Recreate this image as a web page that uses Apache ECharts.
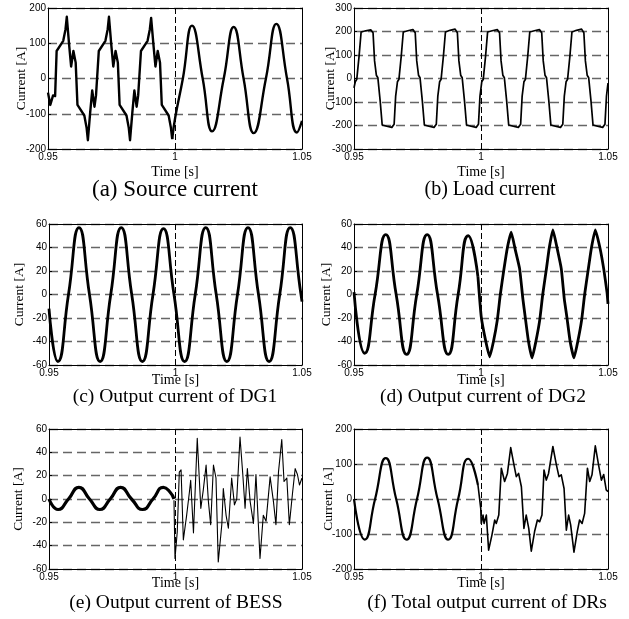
<!DOCTYPE html>
<html>
<head>
<meta charset="utf-8">
<script src="https://cdn.jsdelivr.net/npm/echarts@6/dist/echarts.min.js"></script>
<style>
  html, body { margin: 0; padding: 0; background: #fff; }
  #chart { width: 629px; height: 619px; }
</style>
</head>
<body>
<div id="chart"></div>
<script>
// time is kept in ms (950 = 0.95 s)
const timeTicks = [950, 1000, 1050];
const timeTickLabels = ["0.95", "1", "1.05"];
const sourceTicks = [-200, -100, 0, 100, 200];
const loadTicks = [-300, -200, -100, 0, 100, 200, 300];
const dgTicks = [-60, -40, -20, 0, 20, 40, 60];
const totalTicks = [-200, -100, 0, 100, 200];

const captionTexts = [
  "(a) Source current",
  "(b) Load current",
  "(c) Output current of DG1",
  "(d) Output current of DG2",
  "(e) Output current of BESS",
  "(f) Total output current of DRs",
];

// (a) source current, before / after t = 1 s
const sourcePre = [
  [950, -40], [950.9, -75], [951.5, -80], [952.0, -48], [952.8, -50],
  [953.4, 78], [956.0, 107], [956.9, 140], [957.4, 175], [958.3, 97], [959.1, 34], [960.0, 78], [960.9, 45],
  [961.6, -75], [964.3, -105], [965.2, -140], [965.7, -175], [966.6, -97], [967.4, -34], [968.3, -80], [968.9, -48], [969.4, -50],
  [970.0, 78], [972.6, 107], [973.5, 140], [974.0, 175], [974.9, 97], [975.7, 34], [976.6, 78], [977.5, 45],
  [978.2, -75], [980.9, -105], [981.8, -140], [982.3, -175], [983.2, -97], [984.0, -34], [984.9, -80], [985.5, -48], [986.0, -50],
  [986.6, 78], [989.2, 107], [990.1, 140], [990.6, 172], [991.5, 97], [992.3, 34], [993.2, 78], [994.1, 45],
  [994.8, -75], [997.5, -105], [998.4, -140], [998.9, -172],
];
const sourcePost = [
  [998.9, -172], [1000.1, -110], [1003.1, 0], [1006.7, 150], [1010.9, 0], [1014.6, -150],
  [1019.2, 0], [1023.1, 146], [1027.0, 0], [1031.0, -155], [1035.8, 0], [1039.9, 155],
  [1044.1, 0], [1048.0, -153], [1050, -120],
];

// (b) load current
const loadCurrent = [
  [950, -40], [950.5, -14],
  [951.1, -3], [951.4, 5], [952.0, 95], [952.8, 198], [954.6, 203], [956.6, 207], [957.2, 215], [957.5, 195],
  [958.1, 75], [958.8, 14], [959.4, 3], [959.7, -5], [960.3, -95], [961.1, -198], [962.9, -203], [964.9, -208], [965.5, -216],
  [965.8, -195], [966.4, -75], [967.1, -14],
  [967.7, -3], [968.0, 5], [968.6, 95], [969.4, 198], [971.2, 203], [973.2, 208], [973.8, 216], [974.1, 195],
  [974.7, 75], [975.4, 14], [976.0, 3], [976.3, -5], [976.9, -95], [977.7, -198], [979.5, -203], [981.5, -208], [982.1, -216],
  [982.4, -195], [983.0, -75], [983.7, -14],
  [984.3, -3], [984.6, 5], [985.2, 95], [986.0, 198], [987.8, 205], [989.8, 210], [990.4, 218], [990.7, 195],
  [991.3, 75], [992.0, 14], [992.6, 3], [992.9, -5], [993.5, -95], [994.3, -198], [996.1, -203], [998.1, -208], [998.7, -216],
  [999.0, -195], [999.6, -75], [1000.3, -14],
  [1000.9, -3], [1001.2, 5], [1001.8, 95], [1002.6, 198], [1004.4, 203], [1006.4, 208], [1007.0, 216], [1007.3, 195],
  [1007.9, 75], [1008.6, 14], [1009.2, 3], [1009.5, -5], [1010.1, -95], [1010.9, -198], [1012.7, -203], [1014.7, -208], [1015.3, -216],
  [1015.6, -195], [1016.2, -75], [1016.9, -14],
  [1017.5, -3], [1017.8, 5], [1018.4, 95], [1019.2, 198], [1021.0, 203], [1023.0, 208], [1023.6, 216], [1023.9, 195],
  [1024.5, 75], [1025.2, 14], [1025.8, 3], [1026.1, -5], [1026.7, -95], [1027.5, -198], [1029.3, -203], [1031.3, -208], [1031.9, -216],
  [1032.2, -195], [1032.8, -75], [1033.5, -14],
  [1034.1, -3], [1034.4, 5], [1035.0, 95], [1035.8, 198], [1037.6, 205], [1039.6, 210], [1040.2, 218], [1040.5, 195],
  [1041.1, 75], [1041.8, 14], [1042.4, 3], [1042.7, -5], [1043.3, -95], [1044.1, -198], [1045.9, -203], [1047.9, -208], [1048.5, -216],
  [1048.8, -195], [1049.4, -75], [1050, -20],
];

// (c) DG1 output current
const dg1Current = [
  [950, -12], [953.5, -57], [957.7, 0], [961.85, 57], [966.0, 0], [970.2, -57], [974.4, 0],
  [978.55, 57], [982.7, 0], [986.9, -57], [991.1, 0], [995.25, 56], [999.4, 0], [1003.6, -57],
  [1007.8, 0], [1011.95, 57], [1016.1, 0], [1020.3, -57], [1024.5, 0], [1028.65, 57], [1032.8, 0],
  [1037.0, -57], [1041.2, 0], [1045.35, 57], [1049.6, 0], [1050, -6],
];

// (d) DG2 output current
const dg2Pre = [
  [950, 2], [954.2, -50], [958.3, 0], [962.5, 51], [966.6, 0], [970.7, -51], [974.7, 0],
  [978.8, 51], [982.9, 0], [987.1, -51], [991.0, 0], [995.0, 50], [998.8, 15],
];
const dg2Post = [
  [998.8, 15], [1000.1, -19], [1001.9, -40], [1003.4, -53], [1004.9, -40], [1006.4, -22], [1007.6, 0],
  [1009.0, 21], [1010.4, 40], [1011.9, 53], [1013.5, 38], [1015.2, 22], [1016.5, -4], [1017.4, -19],
  [1018.7, -40], [1020.1, -54], [1021.6, -40], [1023.1, -22], [1024.3, 0], [1025.7, 21], [1026.9, 40],
  [1028.3, 55], [1029.9, 40], [1031.6, 22], [1032.8, -4], [1033.8, -19], [1035.1, -40], [1036.6, -54],
  [1038.1, -40], [1039.6, -22], [1040.8, 0], [1042.2, 21], [1043.5, 40], [1045.0, 55], [1046.8, 40],
  [1048.3, 22], [1049.6, 2], [1050, -8],
];

// (e) BESS output current
const bessPre = [
  [950, 0], [953.6, -9], [957.7, 0], [961.8, 10], [966.0, 0], [970.1, -9], [974.2, 0],
  [978.3, 10], [982.6, 0], [987.0, -9], [991.1, 0], [995.2, 10], [997.8, 6], [999.4, 0],
];
const bessPost = [
  [999.4, -1], [999.8, -51], [1000.7, -28], [1001.5, 23], [1002.2, 25], [1003.1, -35], [1004.4, -14],
  [1005.5, 6], [1006.0, 16], [1007.1, -29], [1008.6, 52], [1010.0, -8], [1011.0, 8], [1012.1, 29],
  [1013.0, -2], [1013.9, -22], [1015.0, 29], [1016.0, 18], [1016.9, -54], [1018.3, -22], [1018.9, 9],
  [1020.0, -14], [1020.9, -25], [1022.2, 18], [1023.3, -5], [1024.2, 0], [1025.5, 53], [1026.6, 21],
  [1027.5, -8], [1028.4, 26], [1029.5, -2], [1030.8, -21], [1031.8, 21], [1033.4, -51], [1034.7, -14],
  [1035.8, -19], [1037.4, 19], [1038.7, -2], [1039.7, -22], [1040.7, 23], [1042.0, 51], [1042.9, 15],
  [1044.0, 18], [1045.0, -22], [1046.3, 6], [1047.3, 26], [1048.2, 21], [1049.0, 12], [1050, 18],
];

// (f) total output current of DRs
const totalPre = [
  [950, 0], [954.2, -116], [958.3, 0], [962.5, 117], [966.6, 0], [970.7, -116], [974.8, 0],
  [978.8, 118], [982.9, 0], [987.1, -116], [991.0, 0], [995.0, 115], [998.8, 40],
];
const totalPost = [
  [998.8, 40], [999.9, -27], [1000.1, -70], [1000.8, -46], [1001.2, -70], [1002.1, -46], [1003.0, -146],
  [1004.3, -103], [1005.4, -60], [1006.0, -70], [1007.0, -46], [1008.0, 88], [1009.3, 50], [1010.4, 73],
  [1011.7, 147], [1013.0, 97], [1013.9, 64], [1014.8, 73], [1015.9, 35], [1016.9, -84], [1017.8, -46],
  [1018.8, -84], [1019.8, -149], [1021.1, -93], [1022.2, -60], [1023.1, -65], [1024.0, -46], [1024.8, 83],
  [1025.7, 54], [1026.6, 73], [1028.3, 150], [1029.7, 97], [1030.7, 64], [1031.6, 69], [1032.7, 30],
  [1033.6, -89], [1034.5, -46], [1035.3, -74], [1036.6, -152], [1037.9, -93], [1038.8, -60], [1039.8, -70],
  [1040.8, -41], [1041.9, 88], [1042.8, 50], [1043.7, 69], [1045.0, 152], [1046.3, 97], [1047.4, 54],
  [1048.3, 70], [1049.3, 26], [1050, 21],
];

const SANS = '"Liberation Sans", Arial, sans-serif';
const SERIF = '"Liberation Serif", "Times New Roman", serif';

const panels = [
  { box: { left: 48, top: 8, width: 254, height: 141 }, ticks: sourceTicks, timeGap: 16, currentGap: 20,
    capX: 175, capY: 190, capSize: 23,
    lines: [{ data: sourcePre, width: 2.4 }, { data: sourcePost, width: 2.4, smooth: 0.5 }] },
  { box: { left: 354, top: 8, width: 254, height: 141 }, ticks: loadTicks, timeGap: 16, currentGap: 17,
    capX: 490, capY: 190, capSize: 20,
    lines: [{ data: loadCurrent, width: 1.7 }] },
  { box: { left: 49, top: 224, width: 253, height: 141 }, ticks: dgTicks, timeGap: 8, currentGap: 23,
    capX: 175, capY: 397, capSize: 19.5,
    lines: [{ data: dg1Current, width: 2.8, smooth: 0.55 }] },
  { box: { left: 354, top: 224, width: 254, height: 141 }, ticks: dgTicks, timeGap: 8, currentGap: 21,
    capX: 483, capY: 397, capSize: 19.5,
    lines: [{ data: dg2Pre, width: 2.8, smooth: 0.55 }, { data: dg2Post, width: 2.8, smooth: 0.15 }] },
  { box: { left: 49, top: 429, width: 253, height: 140 }, ticks: dgTicks, timeGap: 7, currentGap: 24,
    capX: 176, capY: 603, capSize: 19.5,
    lines: [{ data: bessPre, width: 3.2, smooth: 0.55 }, { data: bessPost, width: 1.1 }] },
  { box: { left: 354, top: 429, width: 254, height: 140 }, ticks: totalTicks, timeGap: 7, currentGap: 19,
    capX: 487, capY: 603, capSize: 19.5,
    lines: [{ data: totalPre, width: 2.2, smooth: 0.55 }, { data: totalPost, width: 1.6 }] },
];

const chart = echarts.init(document.getElementById("chart"));

const grid = [], xAxis = [], yAxis = [], series = [], graphic = [];
const frameLine = { show: true, onZero: false, lineStyle: { color: "#000", width: 1 } };

panels.forEach((p, i) => {
  const yMin = p.ticks[0], yMax = p.ticks[p.ticks.length - 1], yStep = p.ticks[1] - p.ticks[0];
  grid.push(Object.assign({ show: false }, p.box));

  xAxis.push({
    type: "value", gridIndex: i, z: 1,
    min: timeTicks[0], max: timeTicks[timeTicks.length - 1], interval: timeTicks[1] - timeTicks[0],
    name: "Time [s]", nameLocation: "middle", nameGap: p.timeGap, nameMoveOverlap: false,
    nameTextStyle: { fontFamily: SERIF, fontSize: 14, color: "#000" },
    axisLine: frameLine,
    axisTick: { inside: true, length: 3, lineStyle: { color: "#000" } },
    axisLabel: {
      margin: 3, fontFamily: SANS, fontSize: 10, color: "#000",
      formatter: (v) => { const k = timeTicks.indexOf(v); return k < 0 ? "" : timeTickLabels[k]; },
    },
    splitLine: { show: true, lineStyle: { color: "#000", type: [6, 3], width: 1 } },
  });
  yAxis.push({
    type: "value", gridIndex: i, z: 0,
    min: yMin, max: yMax, interval: yStep,
    name: "Current [A]", nameLocation: "middle", nameRotate: 90, nameGap: p.currentGap, nameMoveOverlap: false,
    nameTextStyle: { fontFamily: SERIF, fontSize: 13.5, color: "#000" },
    axisLine: frameLine,
    axisTick: { inside: true, length: 3, lineStyle: { color: "#000" } },
    axisLabel: { margin: 2, fontFamily: SANS, fontSize: 10, color: "#000" },
    splitLine: { show: true, lineStyle: { color: "#666", type: [9, 5], width: 1.3 } },
  });
  // top and right frame
  xAxis.push({
    type: "value", gridIndex: i, position: "top", z: 5,
    min: timeTicks[0], max: timeTicks[timeTicks.length - 1],
    axisLine: frameLine, axisTick: { show: false }, axisLabel: { show: false }, splitLine: { show: false },
  });
  yAxis.push({
    type: "value", gridIndex: i, position: "right", z: 5,
    min: yMin, max: yMax,
    axisLine: frameLine, axisTick: { show: false }, axisLabel: { show: false }, splitLine: { show: false },
  });

  p.lines.forEach((l) => {
    series.push({
      type: "line", xAxisIndex: 2 * i, yAxisIndex: 2 * i,
      data: l.data, showSymbol: false, smooth: l.smooth || false, silent: true,
      lineStyle: { color: "#000", width: l.width, join: "round" },
    });
  });

  graphic.push({
    type: "text", x: p.capX, y: p.capY, silent: true,
    style: { text: captionTexts[i], font: p.capSize + "px " + SERIF, fill: "#000", align: "center", verticalAlign: "middle" },
  });
});

chart.setOption({
  animation: false,
  backgroundColor: "#fff",
  grid, xAxis, yAxis, series, graphic,
});
</script>
</body>
</html>
